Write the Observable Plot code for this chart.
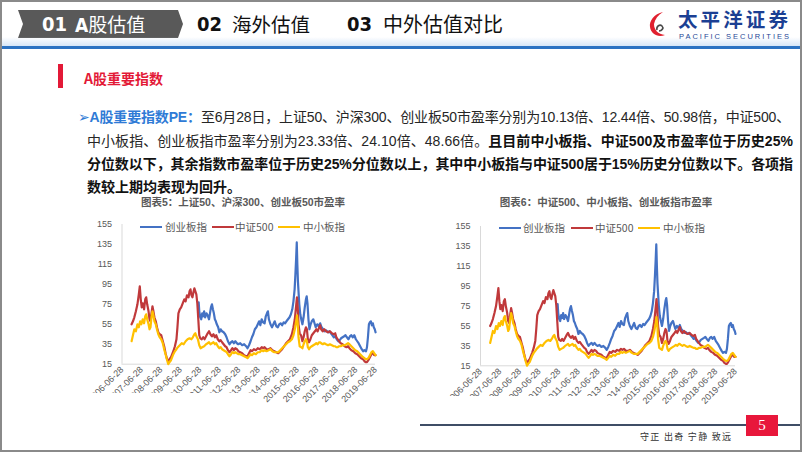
<!DOCTYPE html>
<html><head><meta charset="utf-8">
<script src="https://cdn.jsdelivr.net/npm/d3@7"></script>
<script src="https://cdn.jsdelivr.net/npm/@observablehq/plot@0.6"></script>
<style>
html,body{margin:0;padding:0;}
body{width:802px;height:452px;position:relative;overflow:hidden;background:#fff;font-family:"Noto Sans CJK SC","Noto Sans",sans-serif;}
.abs{position:absolute;white-space:nowrap;}
#frame{position:absolute;left:0;top:0;width:798px;height:448px;border:2px solid #8a8a8a;pointer-events:none;z-index:20}
.para{font-family:"Liberation Sans","Noto Sans CJK SC",sans-serif;font-size:14px;color:#262626;line-height:16px;height:16px;}
.para b{color:#111;font-weight:bold;}
.blue{color:#2f7bd6;font-weight:bold;}
.ctitle{font-family:"Liberation Sans","Noto Sans CJK SC",sans-serif;font-size:10.5px;font-weight:bold;color:#595959;transform:translateX(-50%);line-height:12px;}
.leg{font-size:10.5px;color:#595959;line-height:12px;}
.legline{position:absolute;height:2px;}
.num{font-family:"Liberation Sans Narrow","DejaVu Sans Condensed",sans-serif;font-weight:bold;}
</style></head>
<body>
<div id="frame"></div>

<!-- header -->
<svg class="abs" style="left:0;top:0" width="200" height="45">
  <polygon points="18,10 178,10 183,24 178,38 18,38 23,24" fill="#595959"/>
</svg>
<div class="abs num" style="left:42px;top:9px;font-size:20px;line-height:30px;color:#fff">01</div>
<div class="abs" style="left:75px;top:9px;font-size:19px;line-height:30px;color:#fff"><span class="num">A</span>股估值</div>
<div class="abs num" style="left:197px;top:9px;font-size:20px;line-height:30px;color:#111">02</div>
<div class="abs" style="left:232px;top:9px;font-size:19.5px;line-height:30px;color:#111">海外估值</div>
<div class="abs num" style="left:347px;top:9px;font-size:20px;line-height:30px;color:#111">03</div>
<div class="abs" style="left:383px;top:9px;font-size:20px;line-height:30px;color:#111">中外估值对比</div>

<svg class="abs" style="left:648px;top:11px" width="22" height="27">
  <path d="M15,1 C6,3 1,10 2,16 C3,23 10,27 17,24 C10,23 6,19 6,13 C7,8 10,4 15,1Z" fill="#e0202f"/>
  <path d="M9,19 C8,15 12,13 14,15 C16,17 14,20 11,20" stroke="#4a4a4a" fill="none" stroke-width="1.6"/>
</svg>
<div id="logoCn" class="abs" style="left:678px;top:10px;font-family:'Liberation Sans','Noto Sans CJK SC',sans-serif;font-size:19.5px;font-weight:bold;line-height:20px;color:#1b3f93">太平洋证券</div>
<div id="logoEn" class="abs" style="left:679px;top:33px;font-size:7.5px;line-height:8px;color:#1b3f93;font-family:'Liberation Sans',sans-serif">PACIFIC SECURITIES</div>

<div class="abs" style="left:0;top:37px;width:802px;height:9px;background:linear-gradient(to bottom,rgba(255,255,255,0),#d6e6f7)"></div>
<div class="abs" style="left:0;top:46px;width:802px;height:3px;background:#2b72c2"></div>

<!-- section heading -->
<div class="abs" style="left:58px;top:64px;width:5px;height:24px;background:#e31937"></div>
<div class="abs" style="left:84px;top:70px;font-size:14px;font-weight:bold;line-height:16px;color:#e31937">A股重要指数</div>

<!-- paragraph -->
<div id="l1" class="abs para" style="left:78px;top:109px"><span class="blue"><span style="font-family:'DejaVu Sans'">➢</span>A股重要指数PE：</span>至6月28日，上证50、沪深300、创业板50市盈率分别为10.13倍、12.44倍、50.98倍，中证500、</div>
<div id="l2" class="abs para" style="left:87px;top:133px">中小板指、创业板指市盈率分别为23.33倍、24.10倍、48.66倍。<b>且目前中小板指、中证500及市盈率位于历史25%</b></div>
<div id="l3" class="abs para" style="left:87px;top:156px"><b>分位数以下，其余指数市盈率位于历史25%分位数以上，其中中小板指与中证500居于15%历史分位数以下。各项指</b></div>
<div id="l4" class="abs para" style="left:87px;top:178.5px"><b>数较上期均表现为回升。</b></div>

<!-- chart titles -->
<div class="abs ctitle" style="left:243px;top:195.5px">图表5：上证50、沪深300、创业板50市盈率</div>
<div class="abs ctitle" style="left:606px;top:195.5px">图表6：中证500、中小板指、创业板指市盈率</div>

<div id="c5" class="abs" style="left:85px;top:215px"></div>
<div id="c6" class="abs" style="left:440px;top:215px"></div>
<div id="legs"></div>

<!-- tick-label clipping as in reference -->
<div class="abs" style="left:60px;top:393px;width:203px;height:14px;background:#fff;z-index:5"></div>
<div class="abs" style="left:420px;top:396px;width:202px;height:12px;background:#fff;z-index:5"></div>

<!-- footer -->
<div class="abs" style="left:420px;top:424px;width:382px;height:2px;background:#3f4d66"></div>
<div class="abs" style="left:746px;top:415px;width:32px;height:21px;background:#e8173b;color:#fff;font-family:'Liberation Serif',serif;font-size:15px;line-height:21px;text-align:center">5</div>
<div class="abs" style="left:640px;top:430px;font-size:9px;line-height:13px;color:#333;letter-spacing:1.3px">守正 出奇 宁静 致远</div>

<script>
// ---- data ----
const seriesNames = ["创业板指", "中证500", "中小板指"];
const seriesColors = ["#4472c4", "#c0393b", "#ffc000"];
const yTicks = [15, 35, 55, 75, 95, 115, 135, 155];
const xTickLabels = ["2006-06-28","2007-06-28","2008-06-28","2009-06-28","2010-06-28","2011-06-28","2012-06-28","2013-06-28","2014-06-28","2015-06-28","2016-06-28","2017-06-28","2018-06-28","2019-06-28"];

// 创业板指 PE (decimal year, value)
const tBlue = [2010.42,2010.45,2010.5,2010.55,2010.6,2010.65,2010.7,2010.75,2010.82,2010.88,2010.95,2011.0,2011.05,2011.1,2011.15,2011.2,2011.25,2011.3,2011.35,2011.42,2011.48,2011.55,2011.62,2011.7,2011.78,2011.85,2011.92,2012.0,2012.08,2012.15,2012.22,2012.3,2012.38,2012.45,2012.55,2012.65,2012.75,2012.85,2012.92,2013.0,2013.08,2013.15,2013.22,2013.3,2013.38,2013.45,2013.52,2013.58,2013.65,2013.72,2013.8,2013.86,2013.92,2013.97,2014.02,2014.1,2014.18,2014.25,2014.32,2014.4,2014.48,2014.55,2014.62,2014.7,2014.78,2014.85,2014.92,2015.0,2015.08,2015.15,2015.22,2015.28,2015.34,2015.38,2015.42,2015.45,2015.48,2015.51,2015.54,2015.58,2015.63,2015.68,2015.74,2015.8,2015.86,2015.92,2015.96,2016.0,2016.05,2016.1,2016.16,2016.22,2016.3,2016.36,2016.42,2016.5,2016.58,2016.65,2016.72,2016.8,2016.88,2016.95,2017.05,2017.12,2017.2,2017.28,2017.35,2017.42,2017.5,2017.58,2017.65,2017.72,2017.8,2017.88,2017.95,2018.02,2018.1,2018.18,2018.25,2018.32,2018.4,2018.48,2018.55,2018.62,2018.7,2018.78,2018.85,2018.92,2019.0,2019.05,2019.1,2019.15,2019.2,2019.25,2019.3,2019.35,2019.4,2019.45,2019.49];
const vBlue = [77,68,62,60,66,63,68,62,66,64,60,66,72,75,70,66,60,58,55,52,47,50,48,47,45,42,38,35,37,38,36,38,36,35,36,34,35,33,31,34,38,42,45,50,52,55,58,54,60,57,56,63,66,68,60,55,52,55,58,53,52,55,56,54,57,56,58,60,62,65,70,78,90,105,122,137,115,98,88,75,65,60,55,62,72,80,83,76,60,50,55,58,60,56,52,55,53,56,52,50,48,49,47,48,46,44,42,43,40,38,39,41,42,43,44,42,40,43,44,42,44,40,38,36,33,30,28,29,28,32,42,55,57,58,54,56,52,50,47];

// 中证500 PE
const tRed = [2006.98,2007.05,2007.12,2007.2,2007.28,2007.35,2007.4,2007.45,2007.5,2007.55,2007.62,2007.68,2007.73,2007.78,2007.85,2007.9,2007.95,2008.0,2008.05,2008.1,2008.15,2008.22,2008.28,2008.35,2008.42,2008.5,2008.58,2008.65,2008.72,2008.8,2008.86,2008.92,2009.0,2009.06,2009.12,2009.2,2009.28,2009.33,2009.38,2009.45,2009.52,2009.6,2009.68,2009.75,2009.82,2009.9,2009.95,2010.0,2010.05,2010.1,2010.15,2010.2,2010.25,2010.3,2010.35,2010.4,2010.45,2010.5,2010.58,2010.65,2010.72,2010.8,2010.88,2010.95,2011.02,2011.1,2011.18,2011.25,2011.32,2011.4,2011.48,2011.55,2011.62,2011.7,2011.78,2011.85,2011.92,2012.0,2012.08,2012.15,2012.22,2012.3,2012.38,2012.45,2012.55,2012.65,2012.75,2012.85,2012.92,2013.0,2013.08,2013.15,2013.25,2013.35,2013.45,2013.55,2013.65,2013.72,2013.8,2013.9,2014.0,2014.1,2014.2,2014.3,2014.4,2014.5,2014.6,2014.7,2014.8,2014.9,2015.0,2015.1,2015.2,2015.28,2015.35,2015.42,2015.46,2015.5,2015.54,2015.6,2015.67,2015.74,2015.8,2015.86,2015.92,2015.97,2016.02,2016.08,2016.15,2016.22,2016.3,2016.38,2016.45,2016.52,2016.6,2016.65,2016.7,2016.78,2016.86,2016.95,2017.05,2017.15,2017.25,2017.35,2017.42,2017.48,2017.55,2017.62,2017.7,2017.8,2017.9,2018.0,2018.08,2018.15,2018.25,2018.35,2018.45,2018.55,2018.65,2018.75,2018.85,2018.92,2019.0,2019.05,2019.12,2019.2,2019.28,2019.35,2019.42,2019.49];
const vRed = [55,58,62,68,75,85,93,80,72,76,70,80,82,75,68,60,58,66,73,68,62,58,52,47,45,44,38,33,26,20,18,20,22,25,28,33,40,52,66,70,72,76,80,78,84,82,88,90,84,82,87,91,88,85,76,60,44,41,40,42,40,43,46,48,45,43,45,42,44,40,38,39,37,35,33,32,29,27,29,31,29,31,30,28,27,26,24,23,23,26,29,28,30,29,31,30,32,31,32,30,30,31,29,28,27,26,28,30,33,36,38,40,45,52,60,74,82,72,55,46,44,38,42,48,52,50,40,37,40,44,46,48,50,48,52,54,50,48,50,48,47,48,46,45,46,42,40,38,36,35,33,32,33,31,29,28,26,25,23,21,20,18,17,17,19,22,25,26,24,24];

// 中小板指 PE
const tYellow = [2006.98,2007.05,2007.12,2007.2,2007.28,2007.35,2007.42,2007.48,2007.55,2007.62,2007.68,2007.73,2007.78,2007.85,2007.9,2007.95,2008.0,2008.05,2008.1,2008.15,2008.22,2008.28,2008.35,2008.42,2008.5,2008.58,2008.65,2008.72,2008.8,2008.86,2008.92,2009.0,2009.06,2009.12,2009.2,2009.28,2009.35,2009.45,2009.55,2009.65,2009.75,2009.85,2009.95,2010.05,2010.12,2010.2,2010.25,2010.3,2010.38,2010.45,2010.52,2010.6,2010.7,2010.8,2010.88,2010.95,2011.02,2011.1,2011.18,2011.25,2011.32,2011.4,2011.48,2011.55,2011.62,2011.7,2011.78,2011.85,2011.92,2012.0,2012.08,2012.15,2012.22,2012.3,2012.38,2012.45,2012.55,2012.65,2012.75,2012.85,2012.92,2013.0,2013.08,2013.15,2013.25,2013.35,2013.45,2013.55,2013.65,2013.72,2013.8,2013.9,2014.0,2014.1,2014.2,2014.3,2014.4,2014.5,2014.6,2014.7,2014.8,2014.9,2015.0,2015.1,2015.2,2015.28,2015.35,2015.42,2015.46,2015.5,2015.54,2015.6,2015.67,2015.74,2015.8,2015.86,2015.92,2015.97,2016.02,2016.08,2016.15,2016.22,2016.3,2016.38,2016.45,2016.52,2016.6,2016.65,2016.7,2016.78,2016.86,2016.95,2017.05,2017.15,2017.25,2017.35,2017.42,2017.48,2017.55,2017.62,2017.7,2017.8,2017.9,2018.0,2018.08,2018.15,2018.25,2018.35,2018.45,2018.55,2018.65,2018.75,2018.85,2018.92,2019.0,2019.05,2019.12,2019.2,2019.28,2019.35,2019.42,2019.49];
const vYellow = [38,44,50,48,55,52,58,55,60,56,63,65,60,55,50,52,62,68,64,58,55,50,45,42,40,36,30,25,19,15,17,19,22,25,28,30,32,34,36,35,38,40,41,40,42,45,46,43,40,34,31,32,33,35,36,37,35,36,37,35,36,33,31,32,30,29,28,27,25,23,25,27,26,27,26,25,25,24,23,22,21,23,25,24,26,25,27,27,29,28,29,28,29,30,28,27,27,27,29,31,33,35,37,38,40,44,50,58,64,56,42,33,32,31,35,38,40,38,32,30,32,33,34,35,36,35,37,37,36,35,36,35,34,35,34,33,33,32,32,33,33,34,34,35,36,35,33,31,29,28,26,24,22,21,20,20,21,24,27,28,26,24];

// ---- build ----
function decToDate(t){
  const y = Math.floor(t);
  const a = Date.UTC(y,0,1), b = Date.UTC(y+1,0,1);
  return new Date(a + (t-y)*(b-a));
}
const parse = d3.utcParse("%Y-%m-%d");
const xTicks = xTickLabels.map(parse);
const series = [[tBlue,vBlue],[tRed,vRed],[tYellow,vYellow]].map(([t,v],i)=>
  t.map((tt,j)=>({date:decToDate(tt), v:v[j], s:seriesNames[i]})));

function makeChart(m){
  return Plot.plot({
    width:m.w, height:m.h,
    marginLeft:m.l, marginRight:m.r, marginTop:m.t, marginBottom:m.b,
    style:{fontFamily:"'Liberation Sans',sans-serif", fontSize:"9px", color:"#595959", background:"transparent", overflow:"visible"},
    x:{type:"utc", domain:[xTicks[0], xTicks[xTicks.length-1]], ticks:xTicks, tickFormat:d3.utcFormat("%Y-%m-%d"), tickRotate:-45, tickSize:0, tickPadding:4, label:null},
    y:{domain:[15,155], ticks:yTicks, tickSize:0, tickPadding:10, label:null},
    marks:[
      Plot.ruleX([xTicks[0]], {stroke:"#d9d9d9"}),
      Plot.ruleY([15], {stroke:"#d9d9d9"}),
      ...series.map((d,i)=>Plot.lineY(d,{x:"date", y:"v", stroke:seriesColors[i], strokeWidth:2.2, curve:"linear"}))
    ]
  });
}
document.getElementById("c5").appendChild(makeChart({w:300,h:190,l:36.5,r:10,t:9,b:41.3}));
document.getElementById("c6").appendChild(makeChart({w:305,h:190,l:40,r:10,t:11,b:39.7}));

// legends
const legs = document.getElementById("legs");
const legPos = [
  {y:227, lines:[140,212,278], texts:[165,235,303]},
  {y:228, lines:[499,571,638], texts:[523,595,663]}
];
legPos.forEach(p=>{
  seriesNames.forEach((n,i)=>{
    const l=document.createElement("div"); l.className="abs legline";
    l.style.left=p.lines[i]+"px"; l.style.top=(p.y-1)+"px"; l.style.width="22px"; l.style.background=seriesColors[i];
    legs.appendChild(l);
    const t=document.createElement("div"); t.className="abs leg"; t.textContent=n;
    t.style.left=p.texts[i]+"px"; t.style.top=(p.y-6)+"px";
    legs.appendChild(t);
  });
});

// fit text widths
function fit(id, target){
  const el=document.getElementById(id);
  const n=el.textContent.length;
  const w=el.getBoundingClientRect().width;
  const ls=(target-w)/n;
  el.style.letterSpacing=ls+"px";
  return ls;
}
fit("l1",712);
const a=fit("l2",706), b=fit("l3",706);
document.getElementById("l4").style.letterSpacing=((a+b)/2)+"px";
fit("logoCn",113);
fit("logoEn",112);
</script>
</body></html>
